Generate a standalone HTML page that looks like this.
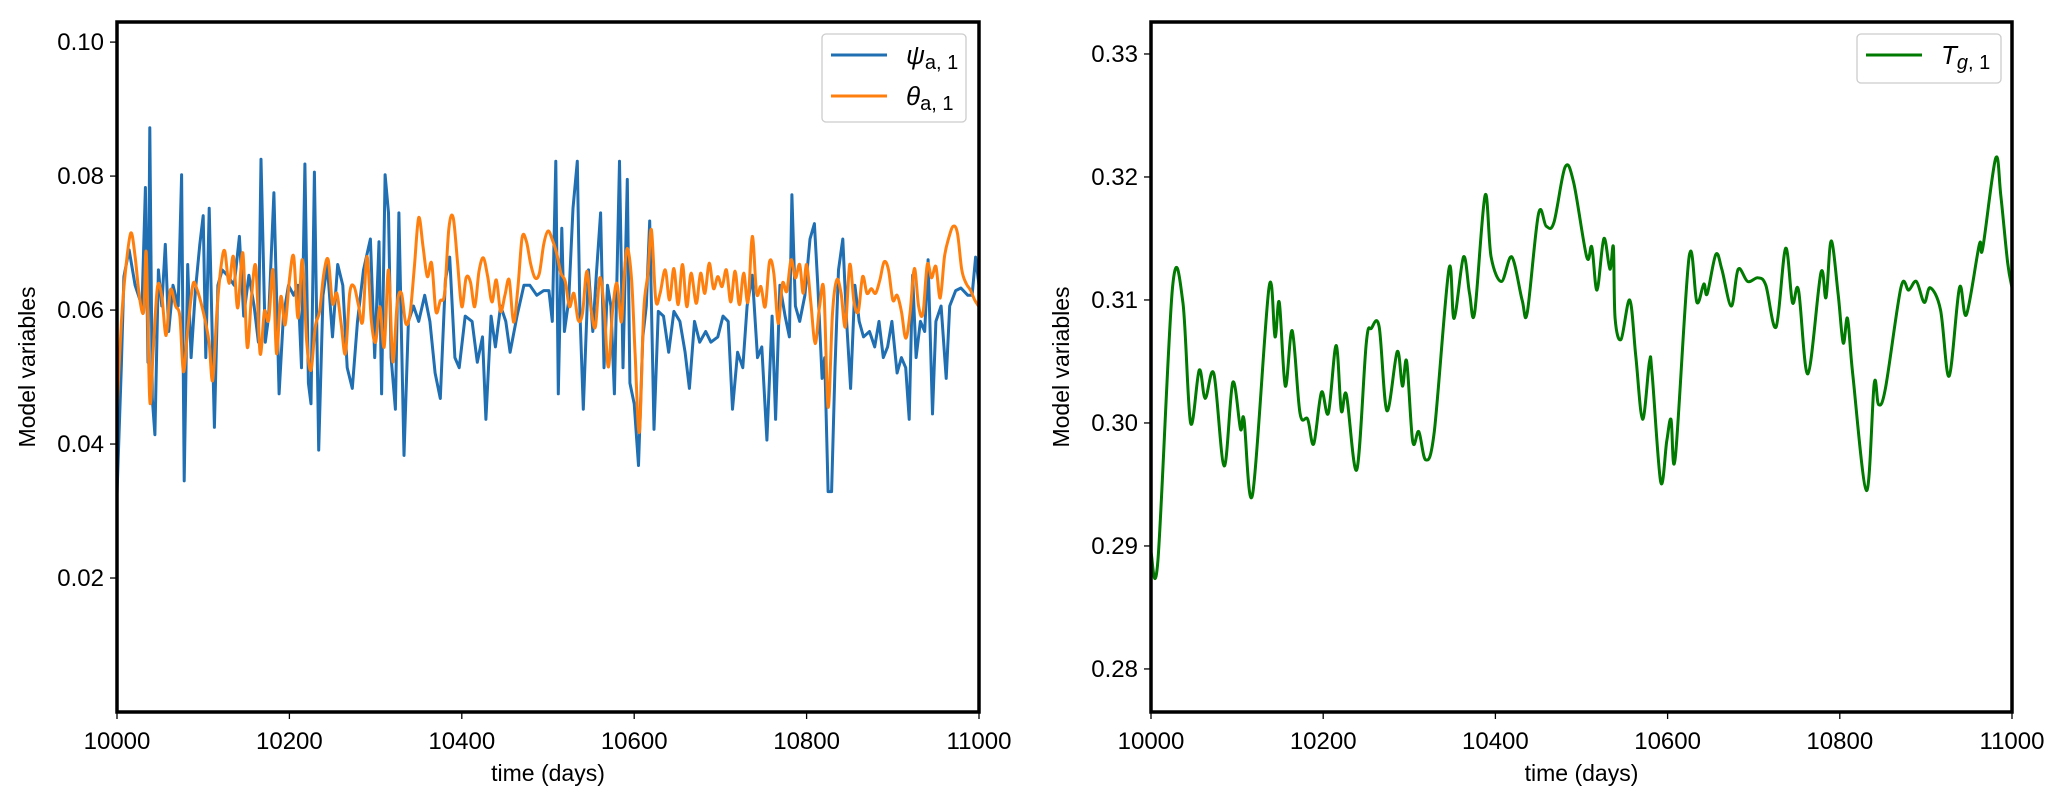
<!DOCTYPE html>
<html><head><meta charset="utf-8"><style>
html,body{margin:0;padding:0;background:#fff;}
svg{display:block;font-family:"Liberation Sans","DejaVu Sans",sans-serif;}
</style></head><body>
<svg id="fig" width="2067" height="806" viewBox="0 0 2067 806" xmlns="http://www.w3.org/2000/svg"></svg>
<script>
// ---- data ----
const psiDays=[0,5,8,14,21,29,33,36,38,41,44,48,52,56,60,65,71,75,78,82,86,91,96,100,103,107,113,117,122,128,136,142,147,153,159,164,167,172,176,182,188,193,199,205,210,214,218,222,225,229,234,239,244,250,256,262,267,273,279,286,294,299,304,307,311,315,318,323,327,333,338,344,350,357,363,369,375,381,386,392,397,404,412,418,424,428,434,439,445,451,456,464,472,479,487,495,501,505,509,512,516,519,524,529,534,537,541,547,552,556,561,565,569,573,577,583,587,592,595,600,605,610,614,618,623,628,634,640,646,653,659,664,670,676,683,689,697,703,709,714,720,726,731,737,743,748,754,760,764,769,775,780,783,787,792,798,804,809,813,818,821,825,829,833,837,842,846,851,856,861,866,873,879,884,889,894,899,905,910,915,919,923,927,932,937,941,946,950,956,962,966,973,979,987,992,996,1000];
const psiVals=[0.0325,0.0514,0.065,0.069,0.0637,0.0606,0.0783,0.0522,0.0872,0.0468,0.0414,0.066,0.0606,0.0698,0.0568,0.0637,0.0606,0.0802,0.0345,0.0668,0.0529,0.0629,0.0698,0.0741,0.0529,0.0752,0.0425,0.0637,0.066,0.0652,0.0637,0.071,0.0591,0.0652,0.0606,0.0552,0.0825,0.0552,0.0591,0.0775,0.0475,0.0591,0.0637,0.0622,0.0637,0.0514,0.0818,0.0491,0.046,0.0806,0.0391,0.0622,0.0668,0.056,0.0668,0.0637,0.0514,0.0483,0.0583,0.066,0.0706,0.0529,0.0702,0.0475,0.0802,0.0745,0.0529,0.0452,0.0745,0.0383,0.0583,0.0606,0.0583,0.0622,0.0583,0.0506,0.0468,0.0645,0.0679,0.0529,0.0514,0.0591,0.0583,0.0522,0.056,0.0437,0.0591,0.0545,0.0606,0.0583,0.0537,0.0591,0.0637,0.0637,0.0622,0.0629,0.0629,0.0583,0.0822,0.0475,0.0722,0.0568,0.0614,0.0752,0.0822,0.0598,0.0452,0.066,0.0568,0.0652,0.0745,0.0514,0.0637,0.0606,0.0475,0.0822,0.0514,0.0795,0.0491,0.046,0.0368,0.056,0.0606,0.0733,0.0422,0.0598,0.0591,0.0537,0.0598,0.0583,0.0537,0.0483,0.0583,0.0552,0.0568,0.0552,0.056,0.0591,0.0583,0.0452,0.0537,0.0514,0.0606,0.0652,0.0529,0.0545,0.0406,0.0591,0.0437,0.0637,0.0591,0.056,0.0772,0.0606,0.0583,0.0622,0.0706,0.0729,0.0637,0.0498,0.0529,0.0329,0.0329,0.0514,0.066,0.0706,0.0591,0.0483,0.0637,0.0583,0.056,0.0568,0.0545,0.0583,0.0529,0.0545,0.0583,0.0506,0.0529,0.0514,0.0437,0.0652,0.0529,0.0583,0.0568,0.0675,0.0445,0.0583,0.0606,0.0498,0.0606,0.0629,0.0633,0.0622,0.0622,0.0679,0.0637];
const thetaDays=[0,5,10,16,21,26,31,34,38,42,47,52,57,62,68,73,77,82,88,93,98,103,107,111,116,121,125,130,135,140,146,151,156,161,166,171,176,181,185,190,195,200,205,210,215,220,225,230,235,240,245,250,255,260,265,270,275,280,285,290,295,300,305,310,315,320,325,330,335,340,345,350,355,360,365,370,375,380,385,390,395,400,405,410,415,420,425,430,435,440,445,450,455,460,465,470,475,480,485,490,495,500,505,510,515,520,525,530,535,540,545,550,555,560,565,570,575,580,585,588,592,597,601,606,611,616,620,625,630,636,641,646,651,656,661,666,672,677,682,687,692,697,702,707,712,717,722,727,732,737,742,747,752,757,762,767,772,777,782,787,792,796,800,805,810,815,820,825,830,835,840,845,850,855,860,865,870,875,880,885,890,895,900,905,910,915,920,925,930,935,940,945,950,955,960,965,970,975,980,985,990,995,1000];
const thetaVals=[0.045,0.058,0.066,0.0715,0.068,0.062,0.0598,0.0685,0.0465,0.054,0.0635,0.062,0.0562,0.063,0.0606,0.059,0.0508,0.057,0.0638,0.063,0.0608,0.058,0.055,0.0495,0.06,0.0668,0.0688,0.064,0.068,0.0603,0.0685,0.0545,0.062,0.0665,0.0535,0.0598,0.0585,0.066,0.0535,0.062,0.0578,0.0645,0.068,0.0588,0.0675,0.0555,0.051,0.0575,0.0598,0.0655,0.0675,0.061,0.0625,0.058,0.0535,0.0625,0.0635,0.0608,0.0583,0.068,0.0585,0.0552,0.0605,0.0545,0.066,0.0523,0.061,0.0625,0.058,0.0595,0.0665,0.0738,0.0695,0.065,0.067,0.0598,0.0614,0.0625,0.0722,0.0738,0.0672,0.0605,0.0648,0.0642,0.0605,0.0658,0.0678,0.065,0.0612,0.0645,0.0598,0.0622,0.0645,0.0582,0.0632,0.0708,0.0702,0.0668,0.0648,0.0655,0.0698,0.0718,0.0705,0.0685,0.0655,0.0643,0.0605,0.0625,0.0585,0.0595,0.0658,0.0601,0.0575,0.0648,0.0605,0.0515,0.06,0.064,0.0582,0.0645,0.0692,0.0645,0.0535,0.0418,0.0598,0.0655,0.072,0.0615,0.0625,0.066,0.0615,0.0662,0.0608,0.0668,0.0605,0.0655,0.061,0.0655,0.0625,0.067,0.0632,0.065,0.0635,0.066,0.0612,0.0658,0.0608,0.0655,0.0612,0.071,0.0625,0.0635,0.0605,0.0672,0.0655,0.058,0.064,0.0628,0.0675,0.0648,0.0668,0.0625,0.0668,0.061,0.055,0.0605,0.063,0.0455,0.0595,0.0645,0.0625,0.0575,0.0668,0.0612,0.0598,0.065,0.0625,0.0632,0.0625,0.0645,0.0672,0.066,0.0615,0.0622,0.0598,0.0558,0.0595,0.0662,0.0605,0.0595,0.0668,0.0648,0.0665,0.0618,0.068,0.0708,0.0725,0.0715,0.066,0.064,0.063,0.0615,0.0605];
const tgDays=[0,8,25,37,46,56,63,73,85,95,104,108,118,137,144,149,156,164,173,182,189,198,206,215,221,227,239,250,256,265,274,286,292,297,304,311,319,329,346,352,363,370,376,388,395,407,419,431,437,450,459,468,481,491,506,512,518,526,533,537,539,546,556,563,571,579,582,592,599,604,609,625,634,642,646,656,663,674,682,693,705,714,726,737,745,752,763,778,784,790,798,804,809,815,831,840,845,853,871,880,889,898,905,917,927,939,947,962,966,981,987,995,1000];
const tgVals=[0.2895,0.2888,0.311,0.3098,0.300,0.3043,0.302,0.304,0.2965,0.3033,0.2995,0.3003,0.2942,0.311,0.307,0.3098,0.303,0.3075,0.3008,0.3003,0.2983,0.3025,0.3008,0.3063,0.301,0.3023,0.2962,0.3065,0.3077,0.3078,0.301,0.3058,0.303,0.305,0.2985,0.2993,0.297,0.2993,0.3125,0.3085,0.3135,0.3105,0.309,0.3185,0.3135,0.3115,0.3135,0.310,0.309,0.317,0.316,0.3163,0.3208,0.3195,0.3135,0.3143,0.3108,0.315,0.3125,0.3143,0.3085,0.3068,0.310,0.3055,0.3003,0.305,0.304,0.2952,0.2985,0.3003,0.2972,0.3135,0.3098,0.3113,0.3105,0.3137,0.3125,0.3095,0.3125,0.3115,0.3118,0.3112,0.3078,0.3142,0.3098,0.3108,0.304,0.3122,0.3102,0.3148,0.3105,0.3065,0.3085,0.304,0.2945,0.3032,0.3015,0.3028,0.311,0.3108,0.3115,0.3098,0.311,0.3092,0.3038,0.311,0.3088,0.3145,0.3142,0.3215,0.3185,0.313,0.311];
const xTicks=[10000,10200,10400,10600,10800,11000];
const leftYTicks=[0.02,0.04,0.06,0.08,0.10];
const rightYTicks=[0.28,0.29,0.30,0.31,0.32,0.33];

const NS="http://www.w3.org/2000/svg";
const svg=document.getElementById('fig');
function el(tag,attrs,parent){const e=document.createElementNS(NS,tag);for(const k in attrs)e.setAttribute(k,attrs[k]);(parent||svg).appendChild(e);return e;}

function pathFor(pts,smooth){
  if(!smooth){return pts.map((p,i)=>(i?'L':'M')+p[0].toFixed(1)+','+p[1].toFixed(1)).join('');}
  let d='M'+pts[0][0].toFixed(1)+','+pts[0][1].toFixed(1);
  for(let i=0;i<pts.length-1;i++){
    const p0=pts[Math.max(0,i-1)],p1=pts[i],p2=pts[i+1],p3=pts[Math.min(pts.length-1,i+2)];
    const c1=[p1[0]+(p2[0]-p0[0])/6,p1[1]+(p2[1]-p0[1])/6];
    const c2=[p2[0]-(p3[0]-p1[0])/6,p2[1]-(p3[1]-p1[1])/6];
    d+='C'+c1[0].toFixed(1)+','+c1[1].toFixed(1)+' '+c2[0].toFixed(1)+','+c2[1].toFixed(1)+' '+p2[0].toFixed(1)+','+p2[1].toFixed(1);
  }
  return d;
}

function panel(cfg){
  const g=el('g',{});
  
  
  const sx=v=>cfg.x0+(v-10000)/1000*(cfg.x1-cfg.x0);
  const sy=v=>cfg.yb-(v-cfg.ymin)/(cfg.ymax-cfg.ymin)*(cfg.yb-cfg.yt);
  const defs=el('defs',{},g);
  const cp=el('clipPath',{id:cfg.name+'-clip'},defs);
  el('rect',{x:cfg.x0,y:cfg.yt,width:cfg.x1-cfg.x0,height:cfg.yb-cfg.yt},cp);
  cfg.series.forEach(s=>{
    const pts=s.days.map((t,i)=>[sx(10000+t),sy(s.vals[i])]);
    const p=el('path',{d:pathFor(pts,s.smooth),fill:'none',stroke:s.color,'stroke-width':3,'stroke-linejoin':'round','clip-path':'url(#'+cfg.name+'-clip)'},g);
    
    
  });
  const fr=el('rect',{x:cfg.x0,y:cfg.yt,width:cfg.x1-cfg.x0,height:cfg.yb-cfg.yt,fill:'none',stroke:'#000','stroke-width':3.5},g);
  
  
  xTicks.forEach(t=>{
    const x=sx(t);
    el('line',{x1:x,y1:cfg.yb,x2:x,y2:cfg.yb+7,stroke:'#000','stroke-width':1.3},g);
    const tx=el('text',{x:x,y:cfg.yb+37,'text-anchor':'middle','font-size':24,fill:'#000'},g);
    tx.textContent=t;
    
    
  });
  cfg.yticks.forEach(t=>{
    const y=sy(t);
    el('line',{x1:cfg.x0-7,y1:y,x2:cfg.x0,y2:y,stroke:'#000','stroke-width':1.3},g);
    const tx=el('text',{x:cfg.x0-13,y:y+8,'text-anchor':'end','font-size':24,fill:'#000'},g);
    tx.textContent=t.toFixed(2);
    
    
  });
  const xl=el('text',{x:(cfg.x0+cfg.x1)/2,y:781,'text-anchor':'middle','font-size':23,fill:'#000'},g);
  xl.textContent='time (days)';
  
  
  const yl=el('text',{x:0,y:0,'text-anchor':'middle','font-size':23,fill:'#000',transform:'translate('+(cfg.x0-82)+','+((cfg.yt+cfg.yb)/2)+') rotate(-90)'},g);
  yl.textContent='Model variables';
  
  
  const lg=el('g',{},g);
  
  
  el('rect',{x:cfg.lx,y:34,width:144,height:cfg.series.length===2?88:49,rx:4,fill:'#fff',stroke:'#ccc','stroke-width':1.3},lg);
  cfg.series.forEach((s,i)=>{
    const y=55+i*41;
    el('line',{x1:cfg.lx+9,y1:y,x2:cfg.lx+65,y2:y,stroke:s.color,'stroke-width':3},lg);
    const t=el('text',{x:cfg.lx+84,y:y+9,'font-size':26,fill:'#000'},lg);
    t.innerHTML=s.label;
    
    
  });
}

panel({name:'left-panel',x0:117,x1:979,yt:22,yb:712,ymin:0,ymax:0.103,yticks:leftYTicks,lx:822,
  series:[{name:'psi-a1-line',color:'#1f6fb2',smooth:false,days:psiDays,vals:psiVals,label:'<tspan font-style="italic">ψ</tspan><tspan font-size="20" dy="5">a, 1</tspan>'},
          {name:'theta-a1-line',color:'#ff7f0e',smooth:true,days:thetaDays,vals:thetaVals,label:'<tspan font-style="italic">θ</tspan><tspan font-size="20" dy="5">a, 1</tspan>'}]});
panel({name:'right-panel',x0:1151,x1:2012,yt:22,yb:712,ymin:0.2765,ymax:0.3326,yticks:rightYTicks,lx:1857,
  series:[{name:'tg1-line',color:'#007a00',smooth:true,days:tgDays,vals:tgVals,label:'<tspan font-style="italic">T</tspan><tspan font-size="20" dy="5" font-style="italic">g</tspan><tspan font-size="20">, 1</tspan>'}]});
</script>
</body></html>
